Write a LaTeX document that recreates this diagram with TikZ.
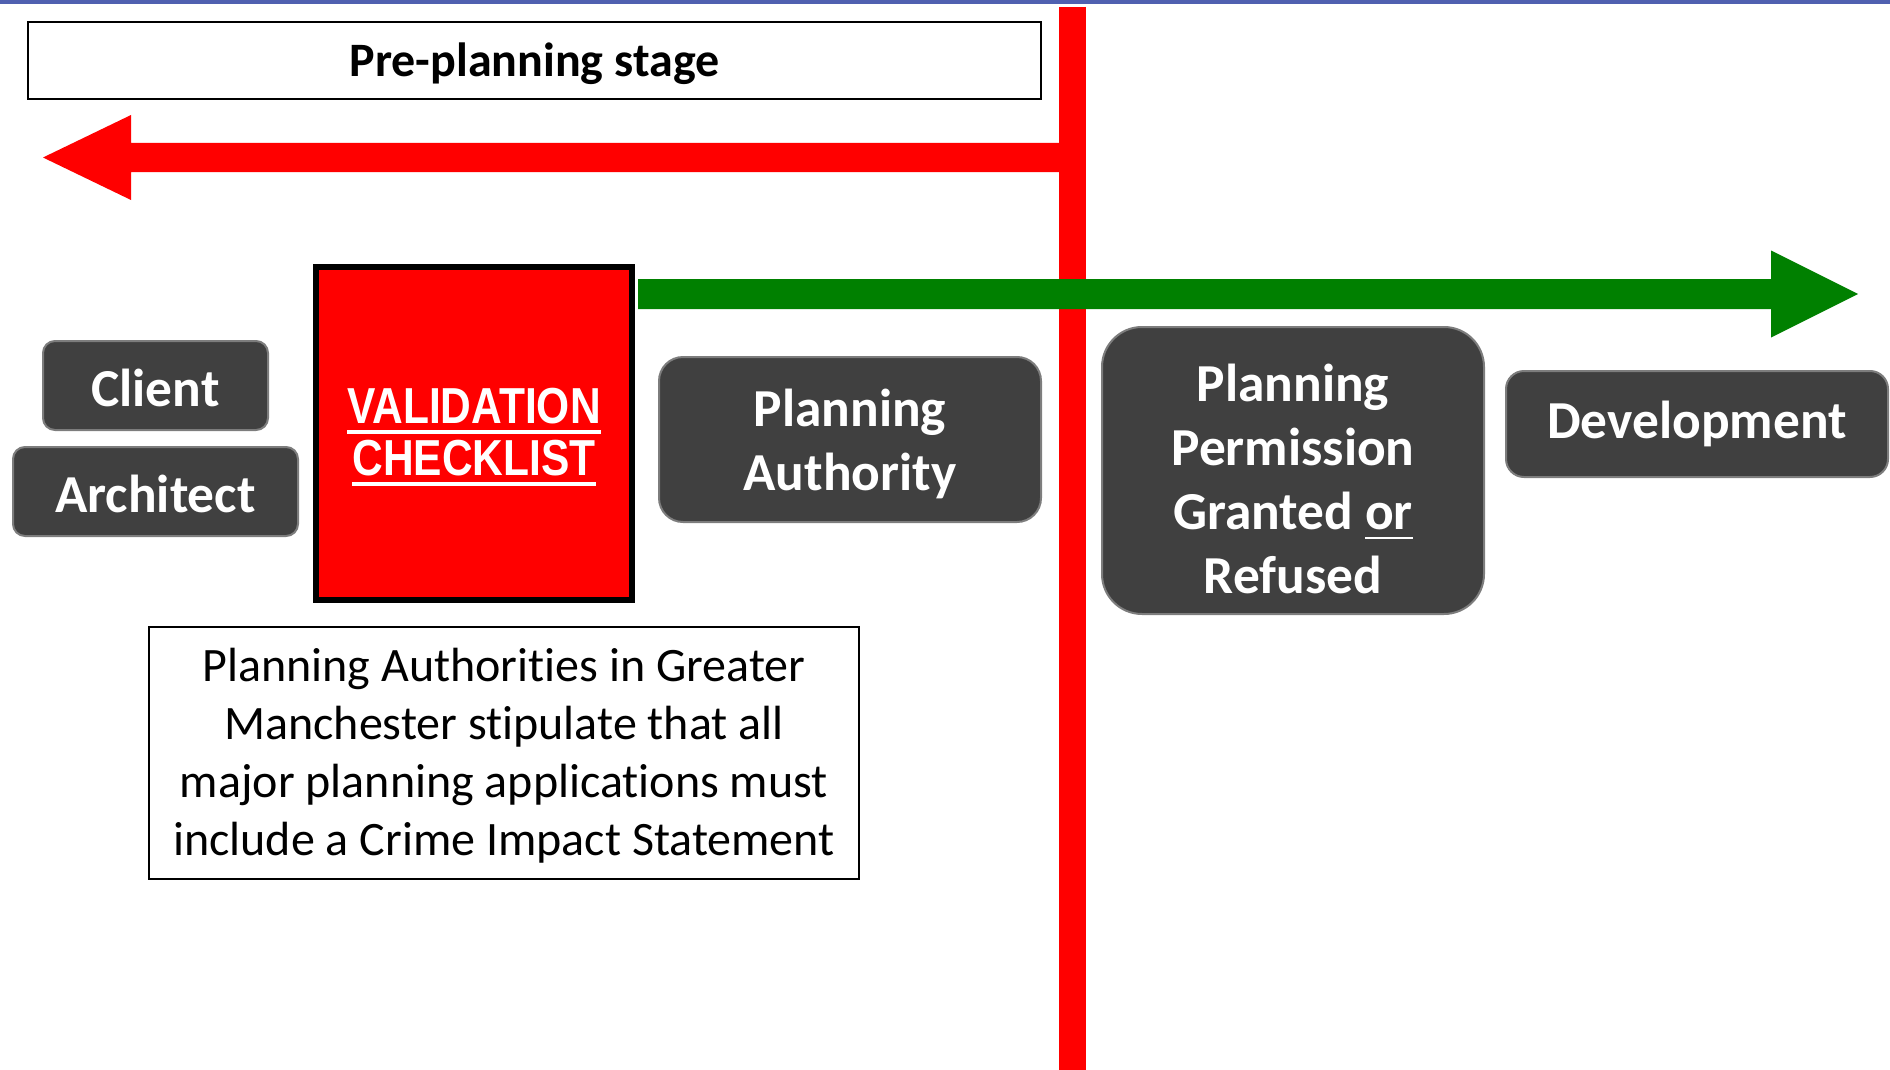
\documentclass[tikz,border=0pt]{standalone}
\usepackage{fontspec}
\usetikzlibrary{calc}
\setmainfont[Ligatures=NoCommon]{Carlito}
\newfontfamily\narrowfont[FakeStretch=0.84]{Liberation Sans}
\definecolor{boxgray}{RGB}{64,64,64}
\definecolor{edgegray}{RGB}{125,125,125}
\definecolor{topblue}{RGB}{80,96,176}
\definecolor{arrred}{RGB}{255,0,0}
\definecolor{arrgreen}{RGB}{0,128,0}
\newcommand\whiteul[2]{\setbox0\hbox{#1}\rlap{\raisebox{-#2}{\rule{\wd0}{1.8pt}}}\box0}
\newcommand\orul[1]{\setbox0\hbox{#1}\rlap{\raisebox{-5pt}{\rule{\wd0}{1.3pt}}}\box0}
\tikzset{
  darkbox/.style={draw=edgegray, line width=1pt, fill=boxgray, inner sep=0pt},
  boxtext/.style={text=white, font=\bfseries\fontsize{26.7}{32}\selectfont, align=center, inner sep=0pt},
  plainbox/.style={draw=black, line width=0.9pt, fill=white, inner sep=0pt},
  plaintext/.style={align=center, inner sep=0pt},
}
\begin{document}
\begin{tikzpicture}[x=0.5pt, y=-0.5pt]
\useasboundingbox (0,0) rectangle (1890,1070);
% top blue rule
\fill[topblue] (0,0) rectangle (1890,4);
% red vertical divider
\coordinate (divtop) at (1072.5,7);
\coordinate (divbot) at (1072.5,1070);
\draw[arrred, line width=13.5pt] (divtop) -- (divbot);
% red arrow pointing left
\coordinate (rS) at (1072.5,157.5);
\coordinate (rT) at (43,157.5);
\fill[arrred] ($(rS)+(0,-14.5)$) -- ($(rT)+(88,-14.5)$) -- ($(rT)+(88,-42.5)$) -- (rT)
  -- ($(rT)+(88,42.5)$) -- ($(rT)+(88,14.5)$) -- ($(rS)+(0,14.5)$) -- cycle;
% pre-planning box
\node[plainbox, minimum width=506.5pt, minimum height=38.5pt] (pre) at (534.5,60.5) {};
\node[plaintext, font=\bfseries\fontsize{24}{28}\selectfont] (pretxt) at ([yshift=-1.8pt]pre.center) {Pre-planning stage};
% client / architect
\node[darkbox, rounded corners=6pt, minimum width=112.5pt, minimum height=44.5pt] (client) at (155.5,385.5) {};
\node[boxtext] (clienttxt) at ([yshift=-1.2pt]client.center) {Client};
\node[darkbox, rounded corners=6pt, minimum width=142.5pt, minimum height=44.5pt] (arch) at (155.5,491.5) {};
\node[boxtext] (archtxt) at ([yshift=-1.2pt]arch.center) {Architect};
% validation checklist
\node[draw=black, line width=3pt, fill=arrred, minimum width=158pt, minimum height=166.5pt, inner sep=0pt] (valid) at (474,433.5) {};
\node[plaintext, text=white, font=\narrowfont\bfseries\fontsize{25.3}{26}\selectfont] (validtxt) at ([yshift=-1.8pt]valid.center)
  {\whiteul{VALIDATION}{5pt}\\\whiteul{CHECKLIST}{5pt}};
% planning authority
\node[darkbox, rounded corners=12pt, minimum width=191pt, minimum height=82.5pt] (auth) at (850,439.5) {};
\node[boxtext] (authtxt) at ([yshift=-2.4pt]auth.center) {Planning\\Authority};
% planning permission
\node[darkbox, rounded corners=20pt, minimum width=191pt, minimum height=143.5pt] (perm) at (1293,470.5) {};
\node[boxtext] (permtxt) at ([yshift=-4.2pt]perm.center) {Planning\\Permission\\Granted \orul{or}\\Refused};
% development
\node[darkbox, rounded corners=9pt, minimum width=191pt, minimum height=53pt] (dev) at (1697,424) {};
\node[boxtext] (devtxt) at (dev.center) {Development};
% note
\node[plainbox, minimum width=355pt, minimum height=126pt] (note) at (504,753) {};
\node[plaintext, font=\fontsize{24}{29}\selectfont] (notetxt) at ([yshift=-1.5pt]note.center)
  {Planning Authorities in Greater\\Manchester stipulate that all\\major planning applications must\\include a Crime Impact Statement};
% green arrow from validation checklist to the right
\coordinate (gS) at ($(valid.east)+(3,-139.5)$);
\coordinate (gT) at (1858,294);
\fill[arrgreen] ($(gS)+(0,-15)$) -- ($(gT)+(-87,-15)$) -- ($(gT)+(-87,-43.5)$) -- (gT)
  -- ($(gT)+(-87,43.5)$) -- ($(gT)+(-87,15)$) -- ($(gS)+(0,15)$) -- cycle;
\end{tikzpicture}
\end{document}
